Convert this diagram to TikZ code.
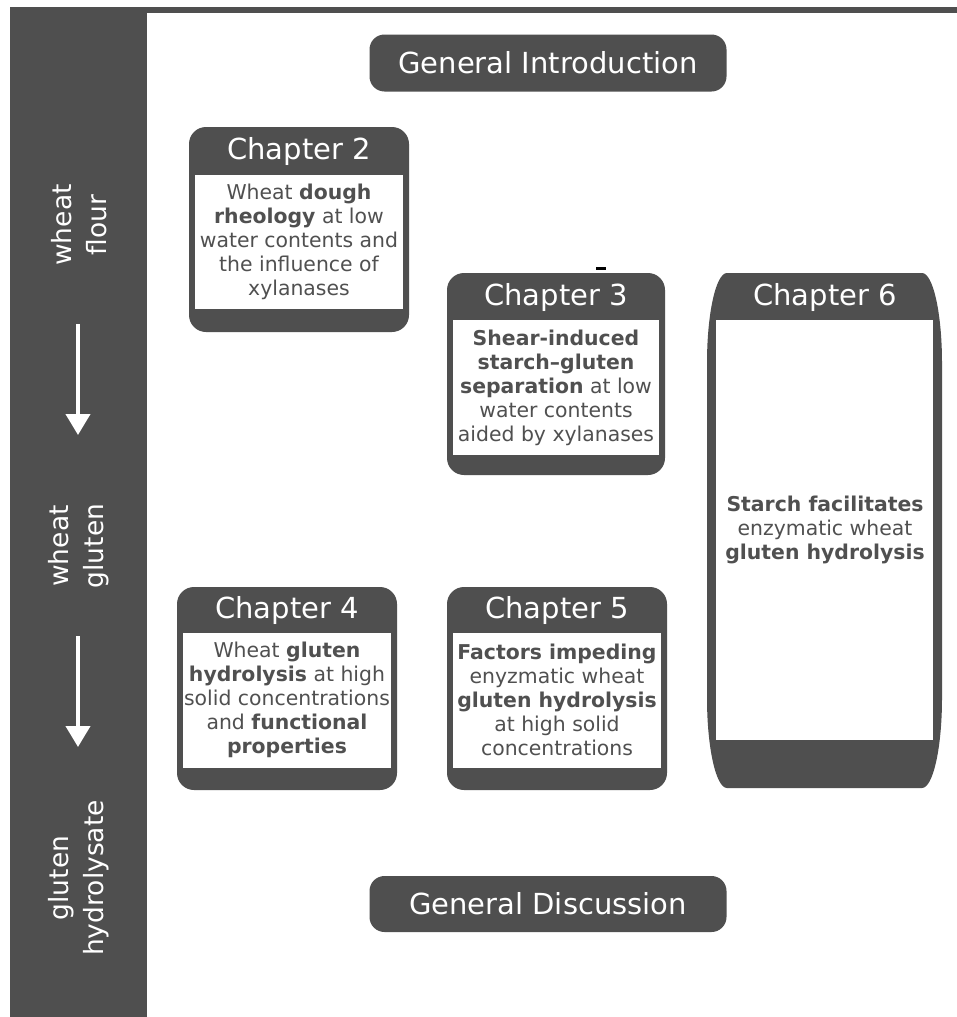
\documentclass[tikz,border=0pt]{standalone}
\usepackage{fontspec}
\setmainfont{DejaVu Sans}
\newfontfamily\condfont[FakeStretch=1.0]{DejaVu Sans}
\usetikzlibrary{arrows.meta}
\definecolor{dk}{HTML}{4F4F4F}
\definecolor{tx}{HTML}{505050}
\begin{document}
\begin{tikzpicture}[x=1pt,y=-1pt,
  outerbox/.style={fill=dk, rounded corners=17pt},
  title/.style={text=white, font=\fontsize{29}{34}\selectfont, inner sep=0pt},
  body/.style={text=tx, align=center, font=\fontsize{20.4}{24}\selectfont, inner sep=0pt},
  pill/.style={fill=dk, rounded corners=15pt, minimum width=357pt, text=white, font=\fontsize{29}{34}\selectfont},
  side/.style={text=white, rotate=90, align=center, font=\condfont\fontsize{26.5}{35}\selectfont, inner sep=0pt},
  sidearrow/.style={white, line width=4pt, -{Triangle[width=24pt,length=21pt]}}]
\useasboundingbox (0,0) rectangle (957,1017);
\fill[white] (0,0) rectangle (957,1017);
% frame
\fill[dk] (10,7) rectangle (957,13);
\fill[dk] (10,7) rectangle (147,1017);
% side labels
\node[side] (s1) at (79,225) {wheat\\flour};
\node[side] (s2) at (79,546) {wheat\\gluten};
\node[side] (s3) at (79,878) {gluten\\hydrolysate};
\coordinate (a1s) at (78,324);
\coordinate (a1e) at (78,435);
\coordinate (a2s) at (78,636);
\coordinate (a2e) at (78,747);
\draw[sidearrow] (a1s) -- (a1e);
\draw[sidearrow] (a2s) -- (a2e);
% general boxes
\node[pill, minimum height=57pt] (gi) at (548,63) {General Introduction};
\node[pill, minimum height=56pt] (gd) at (548,904) {General Discussion};
% Chapter 2
\fill[outerbox] (189,127) rectangle (409,332);
\fill[white] (195,175) rectangle (403,309);
\node[title] (t2) at (299,151) {Chapter 2};
\node[body] (b2) at (299,242) {Wheat \textbf{dough}\\\textbf{rheology} at low\\water contents and\\the influence of\\xylanases};
% Chapter 3
\fill[black] (596,267) rectangle (606,270);
\fill[outerbox] (447,273) rectangle (665,475);
\fill[white] (453,320) rectangle (659,455);
\node[title] (t3) at (556,297) {Chapter 3};
\node[body] (b3) at (556,388) {\textbf{Shear-induced}\\\textbf{starch--gluten}\\\textbf{separation} at low\\water contents\\aided by xylanases};
% Chapter 4
\fill[outerbox] (177,587) rectangle (397,790);
\fill[white] (183,633) rectangle (391,768);
\node[title] (t4) at (287,610) {Chapter 4};
\node[body] (b4) at (287,700) {Wheat \textbf{gluten}\\\textbf{hydrolysis} at high\\solid concentrations\\and \textbf{functional}\\\textbf{properties}};
% Chapter 5
\fill[outerbox] (447,587) rectangle (667,790);
\fill[white] (453,633) rectangle (661,768);
\node[title] (t5) at (557,610) {Chapter 5};
\node[body] (b5) at (557,700) {\textbf{Factors impeding}\\enyzmatic wheat\\\textbf{gluten hydrolysis}\\at high solid\\concentrations};
% Chapter 6
\fill[dk] (727,273) -- (922,273)
  arc[start angle=-90, end angle=0, x radius=20, y radius=90] -- (942,698)
  arc[start angle=0, end angle=90, x radius=20, y radius=90] -- (727,788)
  arc[start angle=90, end angle=180, x radius=20, y radius=90] -- (707,363)
  arc[start angle=180, end angle=270, x radius=20, y radius=90] -- cycle;
\fill[white] (716,320) rectangle (933,740);
\node[title] (t6) at (825,297) {Chapter 6};
\node[body] (b6) at (825,530) {\textbf{Starch facilitates}\\enzymatic wheat\\\textbf{gluten hydrolysis}};
\end{tikzpicture}
\end{document}
